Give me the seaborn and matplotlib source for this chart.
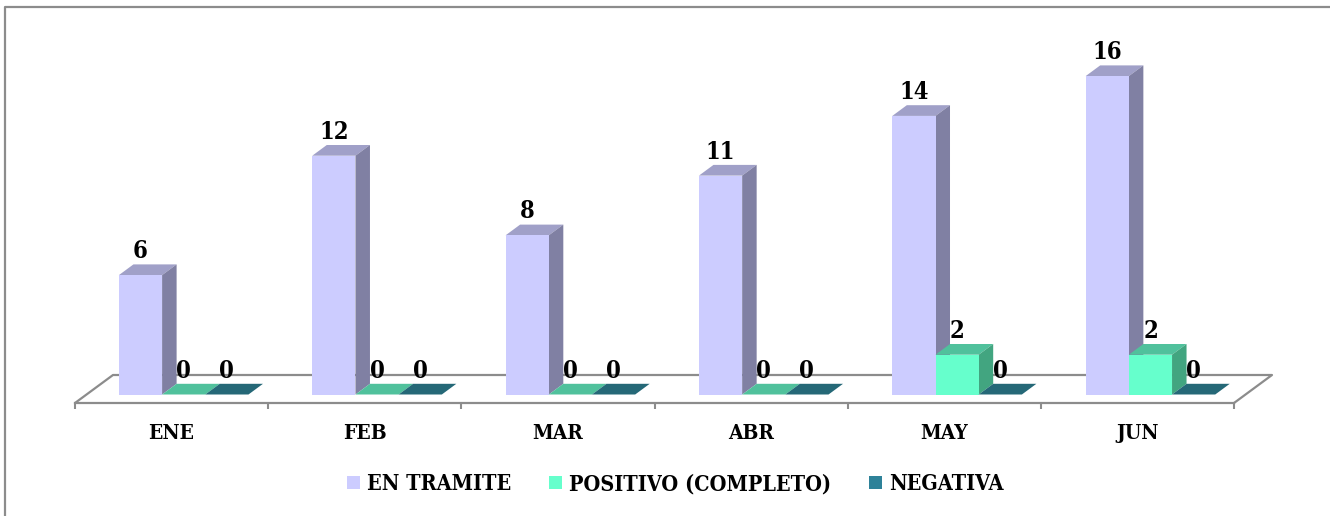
import pandas as pd
import matplotlib
matplotlib.use("Agg")
import matplotlib.pyplot as plt
from matplotlib.patches import Polygon
from matplotlib.lines import Line2D
import seaborn as sns

# Values
months = ["ENE", "FEB", "MAR", "ABR", "MAY", "JUN"]
en_tramite = [6, 12, 8, 11, 14, 16]
positivo = [0, 0, 0, 0, 2, 2]
negativa = [0, 0, 0, 0, 0, 0]
series_names = ["EN TRAMITE", "POSITIVO (COMPLETO)", "NEGATIVA"]

front_colors = ["#CCCCFF", "#66FFCC", "#2E8299"]
top_colors = ["#A0A0C8", "#50C19C", "#256877"]
side_colors = ["#8080A3", "#42A580", "#1F5866"]
line_color = "#8C8C8C"

# Pixel scale of the picture
W, H = 1330, 516
PX_PER_CAT = 193.35
PX_PER_UNIT = 19.9
X_LEFT, X_RIGHT = 75, 1234
Y_TOP, Y_FLOOR, Y_ZERO = 20, 403, 394.5
FIRST_CENTER = 183.7

depth_x = 14.5 / PX_PER_CAT
depth_y = 10.7 / PX_PER_UNIT
floor_dx = 38 / PX_PER_CAT
floor_dy = 28 / PX_PER_UNIT

df = pd.DataFrame({
    "mes": months * 3,
    "serie": [s for s in series_names for _ in months],
    "valor": en_tramite + positivo + negativa,
})

sns.set_theme(style="white")
plt.rcParams["font.family"] = ["DejaVu Serif"]
plt.rcParams["font.stretch"] = "condensed"
plt.rcParams["font.weight"] = "bold"
plt.rcParams["text.color"] = "black"
plt.rcParams["xtick.labelcolor"] = "black"

fig = plt.figure(figsize=(W / 100, H / 100), dpi=100)
ax = fig.add_axes([X_LEFT / W, 1 - Y_FLOOR / H, (X_RIGHT - X_LEFT) / W, (Y_FLOOR - Y_TOP) / H])

sns.barplot(data=df, x="mes", y="valor", hue="serie", order=months, hue_order=series_names,
            palette=front_colors, saturation=1, width=0.67, linewidth=0, ax=ax)

x0 = (X_LEFT - FIRST_CENTER) / PX_PER_CAT
x1 = (X_RIGHT - FIRST_CENTER) / PX_PER_CAT
y0 = (Y_ZERO - Y_FLOOR) / PX_PER_UNIT
y1 = (Y_ZERO - Y_TOP) / PX_PER_UNIT
ax.set_xlim(x0, x1)
ax.set_ylim(y0, y1)
ax.set_xlabel("")
ax.set_ylabel("")
ax.set_yticks([])

# Tick marks between the months, labels under the month centres
step = (x1 - x0) / 6
ax.set_xticks([x0 + i * step for i in range(7)])
ax.set_xticklabels([])
ax.set_xticks([x0 + (i + 0.5) * step for i in range(6)], labels=months, minor=True)
ax.tick_params(axis="x", which="major", length=4.5, width=1.5, color=line_color, bottom=True)
ax.tick_params(axis="x", which="minor", length=0, labelsize=15, labelcolor="black", pad=14.5)

for side in ["top", "left", "right"]:
    ax.spines[side].set_visible(False)
ax.spines["bottom"].set_color(line_color)
ax.spines["bottom"].set_linewidth(1.6)

# Floor outline behind the bars
ax.add_line(Line2D([x0, x0 + floor_dx, x1 + floor_dx, x1], [y0, y0 + floor_dy, y0 + floor_dy, y0],
                   color=line_color, lw=1.6, clip_on=False, zorder=1))

# Fake 3D faces on top of each seaborn bar
for i, bars in enumerate(ax.containers):
    z = 3 + i
    for bar in bars:
        bar.set_zorder(z + 0.5)
        l, r, h = bar.get_x(), bar.get_x() + bar.get_width(), bar.get_height()
        ax.add_patch(Polygon([(l, h), (l + depth_x, h + depth_y), (r + depth_x, h + depth_y), (r, h)],
                             fc=top_colors[i], ec="none", zorder=z, clip_on=False))
        ax.add_patch(Polygon([(r, 0), (r + depth_x, depth_y), (r + depth_x, h + depth_y), (r, h)],
                             fc=side_colors[i], ec="none", zorder=z, clip_on=False))
    labels = ax.bar_label(bars, padding=8.5, fontsize=17, fontweight="bold", color="black")
    for t in labels:
        t.set_zorder(10)
        t.set_clip_on(False)

sns.move_legend(ax, "center", bbox_to_anchor=(675 / W, 1 - 484 / H), bbox_transform=fig.transFigure,
                ncol=3, title=None, frameon=False, fontsize=15.5, handlelength=0.6, handleheight=0.6,
                handletextpad=0.33, columnspacing=1.75, labelcolor="black")

# Outer frame of the pasted chart
fig.add_artist(Line2D([5 / W, 5 / W, 1], [0, 1 - 7 / H, 1 - 7 / H], color=line_color, lw=1.6))

fig.savefig("out.png", dpi=100)
